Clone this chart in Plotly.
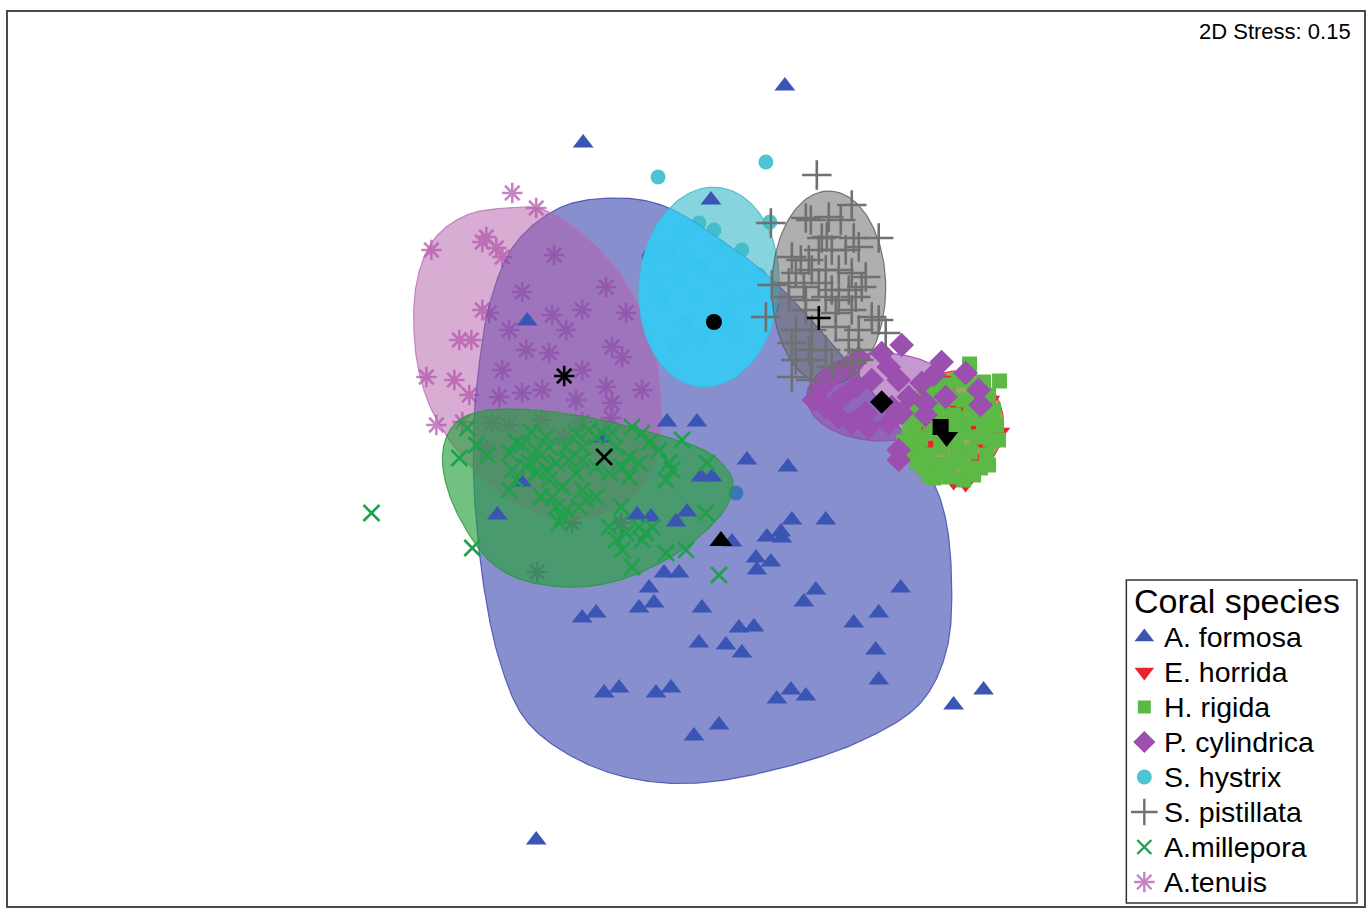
import numpy as np
import plotly.graph_objects as go

# ---- ordination scores (screen-scaled NMDS units) ----
formosa_x = [786, 584, 712, 528, 603, 668, 698, 748, 789, 702, 713, 522, 498, 638, 652, 688, 677, 793, 827, 733,
             768, 782, 783, 757, 772, 758, 665, 680, 650, 655, 640, 703, 817, 805, 902, 880, 855, 583, 597, 740,
             755, 700, 727, 743, 877, 880, 605, 620, 657, 672, 778, 792, 807, 720, 695, 955, 985, 537]
formosa_y = [86, 143, 200, 321, 438, 422, 422, 460, 467, 477, 477, 482, 515, 515, 517, 512, 522, 520, 520, 542,
             537, 532, 538, 558, 562, 570, 573, 573, 588, 603, 608, 608, 590, 602, 588, 613, 623, 618, 613, 628,
             627, 643, 645, 653, 650, 680, 693, 688, 693, 688, 699, 690, 696, 725, 736, 705, 690, 840]

horrida_x = [945, 992, 1002, 937, 977, 982, 955, 967, 930, 960, 985, 948, 970, 920]
horrida_y = [380, 400, 432, 462, 458, 467, 482, 484, 445, 410, 445, 420, 430, 425]

rigida_x = [971, 1001, 930, 945, 960, 975, 990, 920, 935, 950, 965, 980, 995, 912, 925, 940, 955, 970, 985, 998,
            910, 922, 935, 950, 965, 978, 992, 915, 928, 942, 958, 972, 988, 925, 940, 955, 968, 982, 935, 950,
            965, 905, 918, 915, 928, 943, 958, 972, 987, 1000, 945, 960, 975, 930, 912, 990, 950, 940, 985]
rigida_y = [364, 381, 390, 385, 380, 385, 395, 405, 400, 398, 400, 405, 410, 418, 420, 415, 415, 418, 420, 425,
            435, 440, 432, 430, 432, 437, 440, 452, 455, 448, 447, 452, 455, 468, 465, 462, 468, 468, 478, 477,
            480, 442, 462, 428, 410, 405, 425, 410, 432, 440, 440, 455, 475, 475, 448, 465, 470, 392, 382]

cylindrica_x = [903, 943, 860, 848, 830, 820, 815, 827, 843, 857, 873, 890, 900, 910, 893, 867, 853, 870, 890, 903,
                923, 927, 967, 980, 982, 947, 927, 900, 900, 840, 883, 935]
cylindrica_y = [345, 362, 358, 367, 380, 390, 400, 407, 397, 387, 380, 367, 380, 397, 407, 413, 423, 427, 423, 413,
                383, 403, 373, 390, 405, 397, 415, 450, 460, 417, 353, 375]

hystrix_x = [659, 767, 771, 737, 773, 700, 685, 715, 743, 650, 670, 720, 687, 703, 737, 657, 680, 720, 753, 663,
             697, 730, 687, 730, 703, 737, 760, 675]
hystrix_y = [177, 162, 222, 493, 307, 223, 233, 230, 250, 257, 250, 247, 260, 267, 267, 283, 277, 280, 297, 300,
             297, 303, 323, 323, 337, 337, 275, 345]

pistillata_x = [818, 853, 807, 812, 830, 842, 880, 823, 828, 855, 860, 793, 802, 810, 820, 833, 847, 797, 813, 827,
                840, 853, 867, 790, 805, 820, 833, 850, 863, 773, 790, 807, 827, 840, 857, 767, 807, 837, 853, 873,
                880, 797, 813, 837, 860, 887, 793, 810, 827, 850, 860, 797, 813, 833, 853, 793, 812, 860, 772]
pistillata_y = [175, 205, 218, 220, 217, 220, 238, 238, 237, 238, 247, 257, 260, 260, 250, 250, 250, 273, 270, 270,
                270, 273, 277, 283, 287, 283, 290, 290, 287, 285, 297, 300, 297, 300, 297, 317, 310, 313, 310, 317,
                320, 330, 330, 327, 330, 333, 343, 350, 350, 340, 350, 360, 360, 367, 363, 377, 380, 360, 223]

millepora_x = [372, 473, 720, 683, 468, 477, 460, 488, 510, 517, 523, 532, 547, 550, 542, 530, 513, 510, 527, 537,
               547, 557, 550, 542, 553, 563, 557, 567, 563, 577, 583, 583, 590, 603, 613, 617, 597, 610, 623, 630,
               633, 643, 650, 660, 640, 630, 583, 587, 597, 580, 560, 670, 673, 667, 708, 622, 610, 617, 627, 623,
               640, 647, 653, 643, 667, 687, 707, 633, 597, 567, 577, 570, 537, 517]
millepora_y = [513, 548, 575, 440, 428, 445, 458, 455, 453, 442, 445, 432, 437, 447, 455, 462, 470, 490, 467, 473,
               470, 463, 480, 497, 497, 487, 507, 510, 517, 433, 447, 460, 430, 433, 433, 447, 467, 473, 467, 457,
               427, 433, 443, 450, 463, 477, 490, 500, 497, 507, 523, 463, 470, 480, 463, 507, 527, 540, 533, 550,
               527, 533, 527, 540, 553, 550, 513, 567, 437, 447, 473, 460, 450, 480]

tenuis_x = [513, 537, 432, 487, 483, 497, 503, 483, 490, 460, 472, 427, 455, 470, 555, 523, 553, 583, 607, 627,
            510, 567, 613, 623, 527, 550, 503, 583, 607, 643, 523, 543, 577, 613, 500, 437, 463, 493, 510, 542,
            583, 612, 565, 488, 573, 622, 538]
tenuis_y = [193, 208, 250, 237, 242, 248, 257, 310, 313, 340, 340, 377, 380, 395, 255, 292, 315, 310, 287, 313,
            330, 330, 347, 357, 350, 353, 370, 370, 387, 390, 393, 390, 400, 403, 397, 425, 422, 423, 425, 420,
            422, 418, 438, 450, 523, 523, 572]

# group centroids, in legend order
species = ["A. formosa", "E. horrida", "H. rigida", "P. cylindrica",
           "S. hystrix", "S. pistillata", "A.millepora", "A.tenuis"]
centroid_x = [722, 948, 942, 883, 715, 820, 605, 565]
centroid_y = [541, 437, 427, 402, 322, 318, 457, 376]

stress = 0.15

# ---- group outlines ----
blue_outline = [(613, 198), (665, 206), (722, 240), (777, 283), (830, 340), (880, 400), (920, 455), (945, 510),
                (953, 580), (948, 650), (920, 705), (860, 742), (783, 768), (700, 783), (630, 778), (570, 755),
                (525, 718), (500, 660), (485, 590), (476, 510), (474, 440), (478, 380), (490, 305), (515, 245),
                (560, 208)]
pink_outline = [(507, 208), (545, 210), (590, 240), (628, 285), (652, 340), (662, 400), (658, 455), (635, 495),
                (595, 517), (555, 518), (515, 502), (480, 475), (450, 440), (428, 400), (416, 350), (416, 290),
                (432, 243), (465, 216)]
green_outline = [(443, 457), (452, 428), (475, 413), (517, 409), (583, 416), (650, 432), (705, 450), (730, 472),
                 (733, 490), (722, 515), (683, 550), (630, 577), (580, 587), (530, 582), (495, 565), (470, 535),
                 (450, 495)]


def smooth_closed(pts, n=24):
    P = np.asarray(pts, float)
    m = len(P)
    t = np.linspace(0, 1, n, endpoint=False)[:, None]
    segs = []
    for i in range(m):
        p0, p1, p2, p3 = P[i - 1], P[i], P[(i + 1) % m], P[(i + 2) % m]
        segs.append(0.5 * (2 * p1 + (-p0 + p2) * t + (2 * p0 - 5 * p1 + 4 * p2 - p3) * t ** 2
                           + (-p0 + 3 * p1 - 3 * p2 + p3) * t ** 3))
    out = np.vstack(segs)
    return np.vstack([out, out[:1]])


def ellipse(cx, cy, a, b, rot=0.0, n=160):
    th = np.linspace(0, 2 * np.pi, n)
    r = np.deg2rad(rot)
    x = a * np.cos(th)
    y = b * np.sin(th)
    return np.column_stack([cx + x * np.cos(r) - y * np.sin(r), cy + x * np.sin(r) + y * np.cos(r)])


def inside_poly(pts, poly):
    px, py = pts[:, 0][:, None], pts[:, 1][:, None]
    x, y = poly[:, 0][None, :], poly[:, 1][None, :]
    x2, y2 = np.roll(x, -1, axis=1), np.roll(y, -1, axis=1)
    cond = ((y > py) != (y2 > py)) & (px < (x2 - x) * (py - y) / (y2 - y + 1e-12) + x)
    return cond.sum(axis=1) % 2 == 1


blue_poly = smooth_closed(blue_outline)
pink_poly = smooth_closed(pink_outline)
green_poly = smooth_closed(green_outline)
cyan_par = (710, 287, 70, 100, 5)
cyan_poly = ellipse(*cyan_par)
gray_poly = ellipse(830, 288, 57, 97)
purple_poly = ellipse(883, 397, 75, 44)
red_poly = ellipse(958, 424, 47, 53)
rig_poly = ellipse(953, 427, 49, 54)

# part of the S. hystrix ellipse lying over the A. formosa area
cx, cy, a, b, rot = cyan_par
r = np.deg2rad(rot)


def in_cyan(p):
    dx, dy = p[:, 0] - cx, p[:, 1] - cy
    u = dx * np.cos(r) + dy * np.sin(r)
    v = -dx * np.sin(r) + dy * np.cos(r)
    return (u / a) ** 2 + (v / b) ** 2 <= 1


ov = np.vstack([cyan_poly[inside_poly(cyan_poly, blue_poly)], blue_poly[in_cyan(blue_poly)]])
ctr = ov.mean(axis=0)
ov = ov[np.argsort(np.arctan2(ov[:, 1] - ctr[1], ov[:, 0] - ctr[0]))]
ov = np.vstack([ov, ov[:1]])

fig = go.Figure()


def hull(poly, fill, line):
    fig.add_trace(go.Scatter(x=poly[:, 0], y=poly[:, 1], mode="lines", fill="toself", fillcolor=fill,
                             line=dict(color=line, width=1.2), hoverinfo="skip", showlegend=False))


THIN = ("cross-thin", "x-thin", "asterisk")


def marker(symbol, color, size, lw=2.6):
    return dict(symbol=symbol, size=size, color=color,
                line=dict(color=color, width=lw if symbol in THIN else 0))


def pts(x, y, name, symbol, color, size):
    fig.add_trace(go.Scatter(x=x, y=y, mode="markers", name=name, showlegend=False,
                             marker=marker(symbol, color, size)))


BLUE, RED, GREEN, PURPLE = "#3A55B4", "#E8262A", "#5CB946", "#9B4FAE"
CYAN, GREY, DGREEN, PINK = "#4CC5D3", "#707070", "#1FA04A", "#C883C4"

pts(hystrix_x, hystrix_y, species[4], "circle", CYAN, 15)
pts(tenuis_x, tenuis_y, species[7], "asterisk", PINK, 17)
hull(blue_poly, "rgba(45,58,168,0.57)", "rgba(60,70,170,0.8)")
hull(pink_poly, "rgba(180,90,170,0.5)", "rgba(185,110,180,0.8)")
hull(cyan_poly, "rgba(60,185,200,0.62)", "rgba(60,185,200,0.8)")
fig.add_trace(go.Scatter(x=ov[:, 0], y=ov[:, 1], mode="lines", fill="toself", fillcolor="rgba(55,200,245,0.88)",
                         line=dict(width=0), hoverinfo="skip", showlegend=False))
hull(green_poly, "rgba(40,160,60,0.65)", "rgba(40,150,60,0.8)")
hull(gray_poly, "rgba(110,110,110,0.55)", "rgba(90,90,90,0.8)")
hull(purple_poly, "rgba(150,70,170,0.55)", "rgba(150,70,170,0.8)")
hull(red_poly, "rgba(230,40,40,0.5)", "rgba(220,40,40,0.9)")
hull(rig_poly, "rgba(90,185,70,0.6)", "rgba(90,185,70,0.8)")

pts(formosa_x, formosa_y, species[0], "triangle-up", BLUE, 18)
pts(horrida_x, horrida_y, species[1], "triangle-down", RED, 17)
pts(rigida_x, rigida_y, species[2], "square", GREEN, 15)
pts(cylindrica_x, cylindrica_y, species[3], "diamond", PURPLE, 19)
pts(pistillata_x, pistillata_y, species[5], "cross-thin", GREY, 21)
pts(millepora_x, millepora_y, species[6], "x-thin", DGREEN, 16)

symbols = ["triangle-up", "triangle-down", "square", "diamond", "circle", "cross-thin", "x-thin", "asterisk"]
colors = [BLUE, RED, GREEN, PURPLE, CYAN, GREY, DGREEN, PINK]
cent_sizes = [20, 20, 16, 18, 16, 17, 16, 17]
for sx, sy, sym, sz in zip(centroid_x, centroid_y, symbols, cent_sizes):
    fig.add_trace(go.Scatter(x=[sx], y=[sy], mode="markers", showlegend=False, hoverinfo="skip",
                             marker=marker(sym, "black", sz)))

# ---- legend box (axes are in screen-scaled units) ----
LEG_L, LEG_R, LEG_T, LEG_B = 1128, 1359, 580, 903
LEG_ROW0, LEG_DY, LEG_SYM_X, LEG_TXT_X = 637, 35, 1146, 1164
leg_sizes = [17, 17, 13, 17, 15, 19, 14, 17]
shapes = [dict(type="rect", x0=LEG_L, x1=LEG_R, y0=LEG_T, y1=LEG_B, xref="x", yref="y",
               line=dict(color="#333", width=1.5), fillcolor="white", layer="below")]
annotations = [dict(text="Coral species", x=LEG_L + 6, y=LEG_T + 21, xref="x", yref="y", xanchor="left",
                    yanchor="middle", showarrow=False, font=dict(size=34))]
leg_y = [LEG_ROW0 + i * LEG_DY for i in range(len(species))]
for i, (name, sym, col, sz) in enumerate(zip(species, symbols, colors, leg_sizes)):
    fig.add_trace(go.Scatter(x=[LEG_SYM_X], y=[leg_y[i]], mode="markers", showlegend=False, hoverinfo="skip",
                             marker=marker(sym, col, sz, lw=2.4)))
    annotations.append(dict(text=name, x=LEG_TXT_X, y=leg_y[i], xref="x", yref="y", xanchor="left",
                            yanchor="middle", showarrow=False, font=dict(size=28.5)))

annotations.append(dict(text=f"2D Stress: {stress:.2f}", x=1355, y=31, xref="x", yref="y", xanchor="right",
                        yanchor="middle", showarrow=False, font=dict(size=22)))

ML, MR, MT, MB = 8, 2, 12, 6
W, H = 1368, 912
fig.update_layout(
    width=W, height=H, margin=dict(l=ML, r=MR, t=MT, b=MB),
    paper_bgcolor="white", plot_bgcolor="white",
    font=dict(family="Liberation Sans, Arial, sans-serif", color="black"),
    xaxis=dict(range=[ML, W - MR], showgrid=False, zeroline=False, showticklabels=False, ticks="",
               showline=True, mirror=True, linecolor="#4a4a4a", linewidth=2),
    yaxis=dict(range=[H - MB, MT], showgrid=False, zeroline=False, showticklabels=False, ticks="",
               showline=True, mirror=True, linecolor="#4a4a4a", linewidth=2),
    shapes=shapes, annotations=annotations, showlegend=False,
)

fig.write_html("out.html")
